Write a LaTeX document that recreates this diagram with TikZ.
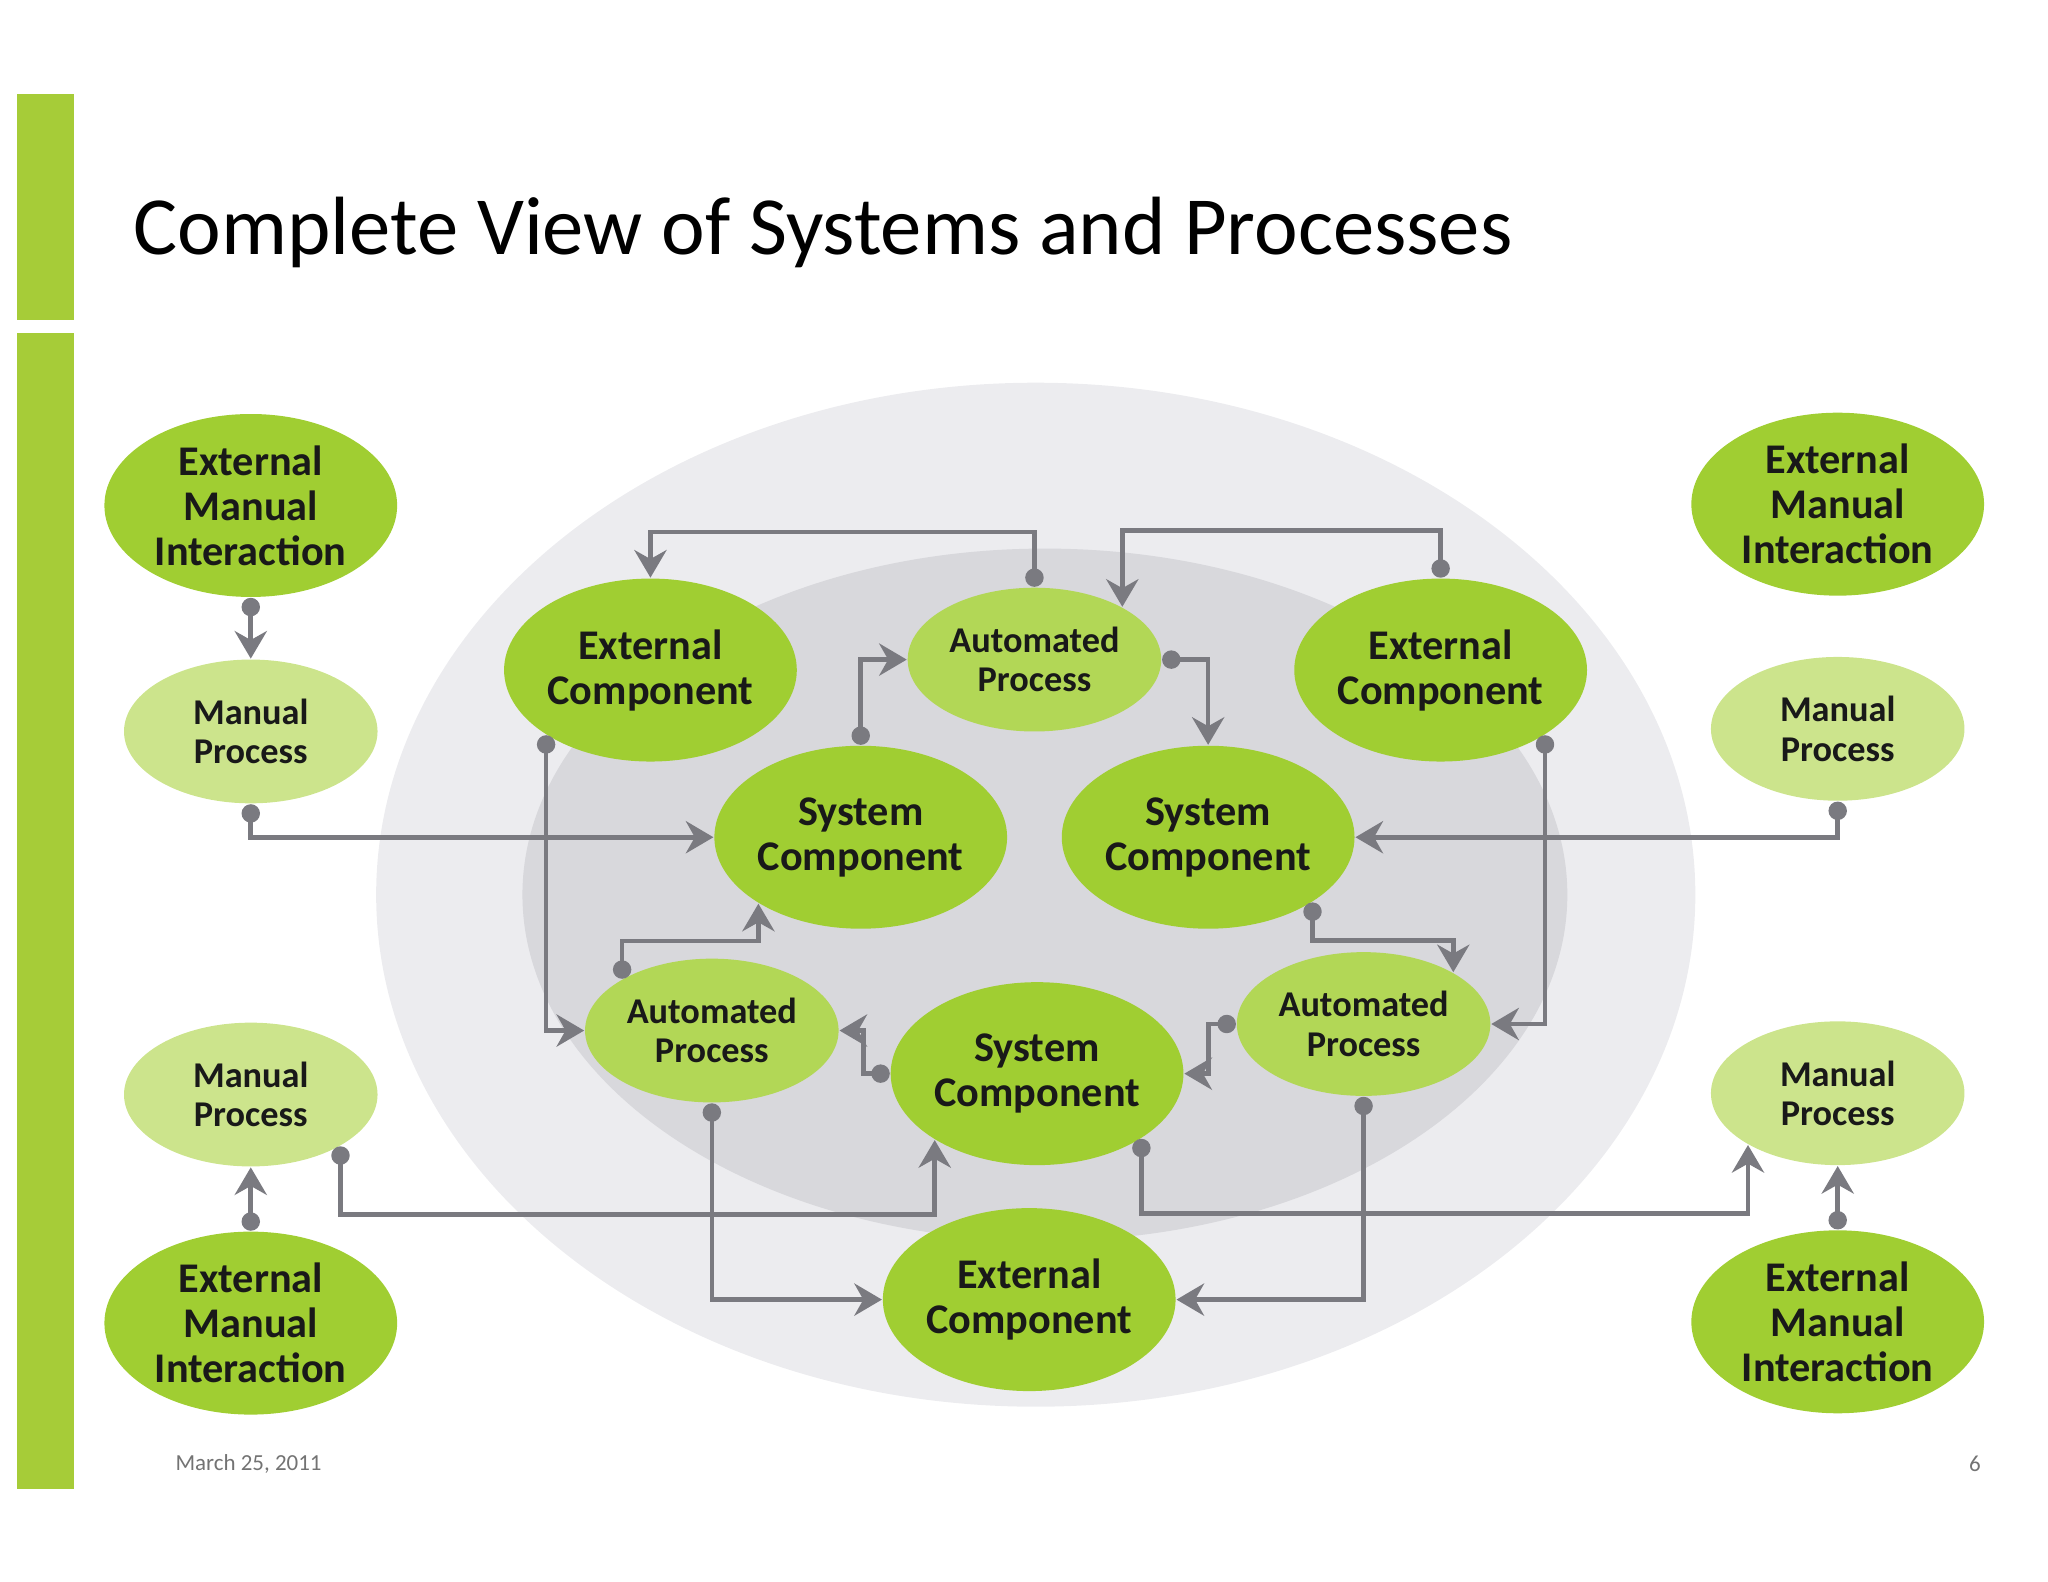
\documentclass[tikz,border=0pt]{standalone}
\usepackage{fontspec}
\setmainfont{Carlito}
\usetikzlibrary{shapes.geometric,arrows.meta,positioning}
\definecolor{barGreen}{RGB}{166,204,56}
\definecolor{nodeGreen}{RGB}{160,206,50}
\definecolor{paleGreen}{RGB}{204,228,140}
\definecolor{lineGray}{RGB}{122,122,128}
\definecolor{outerGray}{RGB}{236,236,239}
\definecolor{innerGray}{RGB}{216,216,220}
\begin{document}
\begin{tikzpicture}[x=0.01cm,y=-0.01cm,
    big/.style={ellipse,fill=nodeGreen,minimum width=2.24cm,minimum height=1.40cm,inner sep=-3pt,
      align=center,font=\fontsize{9.2}{9.8}\selectfont\bfseries,text=black!90},
    small/.style={ellipse,fill=paleGreen,minimum width=1.94cm,minimum height=1.10cm,inner sep=-3pt,
      align=center,font=\fontsize{7.9}{8.6}\selectfont\bfseries,text=black!90},
    auto/.style={small,fill=nodeGreen!60!paleGreen},
    link/.style={draw=lineGray,line width=1pt,
      {Circle[length=4pt]}-{Stealth[length=6pt,width=7pt]}}]
  \useasboundingbox (0,0) rectangle (1568,1211);
  % side bar
  \fill[barGreen] (13,72) rectangle (57,245);
  \fill[barGreen] (13,255) rectangle (57,1140);
  \node[anchor=west,font=\fontsize{18}{20}\selectfont] (title) at (90,178) {Complete View of Systems and Processes};
  \node[anchor=west,font=\fontsize{5}{6}\selectfont,text=black!55] (date) at (122,1121) {March 25, 2011};
  \node[font=\fontsize{5}{6}\selectfont,text=black!55] (page) at (1512,1121) {6};
  % background rings
  \fill[outerGray] (793,685) ellipse (505 and 392);
  \fill[innerGray] (800,685) ellipse (400 and 265);
  % outer nodes
  \node[big]   (emi1) at (192,387)  {External\\Manual\\Interaction};
  \node[small] (mp1)  at (192,560)  {Manual\\Process};
  \node[big]   (emi2) at (1407,386) {External\\Manual\\Interaction};
  \node[small] (mp2)  at (1407,558) {Manual\\Process};
  \node[small] (mp3)  at (192,838)  {Manual\\Process};
  \node[big]   (emi3) at (192,1013) {External\\Manual\\Interaction};
  \node[small] (mp4)  at (1407,837) {Manual\\Process};
  \node[big]   (emi4) at (1407,1012) {External\\Manual\\Interaction};
  % inner nodes
  \node[big]  (ec1) at (498,513)  {External\\Component};
  \node[auto] (ap1) at (792,505)  {Automated\\Process};
  \node[big]  (ec2) at (1103,513) {External\\Component};
  \node[big]  (sc1) at (659,641)  {System\\Component};
  \node[big]  (sc2) at (925,641)  {System\\Component};
  \node[auto] (ap2) at (545,789)  {Automated\\Process};
  \node[big]  (sc3) at (794,822)  {System\\Component};
  \node[auto] (ap3) at (1044,784) {Automated\\Process};
  \node[big]  (ec3) at (788,995)  {External\\Component};
  % connectors
  \draw[link] (emi1.south) -- (mp1.north);
  \draw[link] (mp1.south) |- (sc1.west);
  \draw[link] (ap1.north) -- ++(0,-42) -| (ec1.north);
  \draw[link] (ec2.north) -- ++(0,-36) -| (ap1.31);
  \draw[link] (sc1.north) |- (ap1.west);
  \draw[link] (ap1.east) -| (sc2.north);
  \draw[link] (mp2.south) |- (sc2.east);
  \draw[link] (ec1.212) |- (ap2.west);
  \draw[link] (ap2.150) -- ++(0,-29) -| (sc1.213);
  \draw[link] (sc3.west) -- ++(-20,0) |- (ap2.east);
  \draw[link] (sc2.328) -- ++(0,29) -| (ap3.30);
  \draw[link] (ec2.328) |- (ap3.east);
  \draw[link] (ap3.west) -- ++(-21,0) |- (sc3.east);
  \draw[link] (mp3.330) -- ++(0,52) -| (sc3.213);
  \draw[link] (emi3.north) -- (mp3.south);
  \draw[link] (ap2.south) |- (ec3.west);
  \draw[link] (ap3.south) |- (ec3.east);
  \draw[link] (sc3.328) -- ++(0,57) -| (mp4.210);
  \draw[link] (emi4.north) -- (mp4.south);
\end{tikzpicture}
\end{document}
